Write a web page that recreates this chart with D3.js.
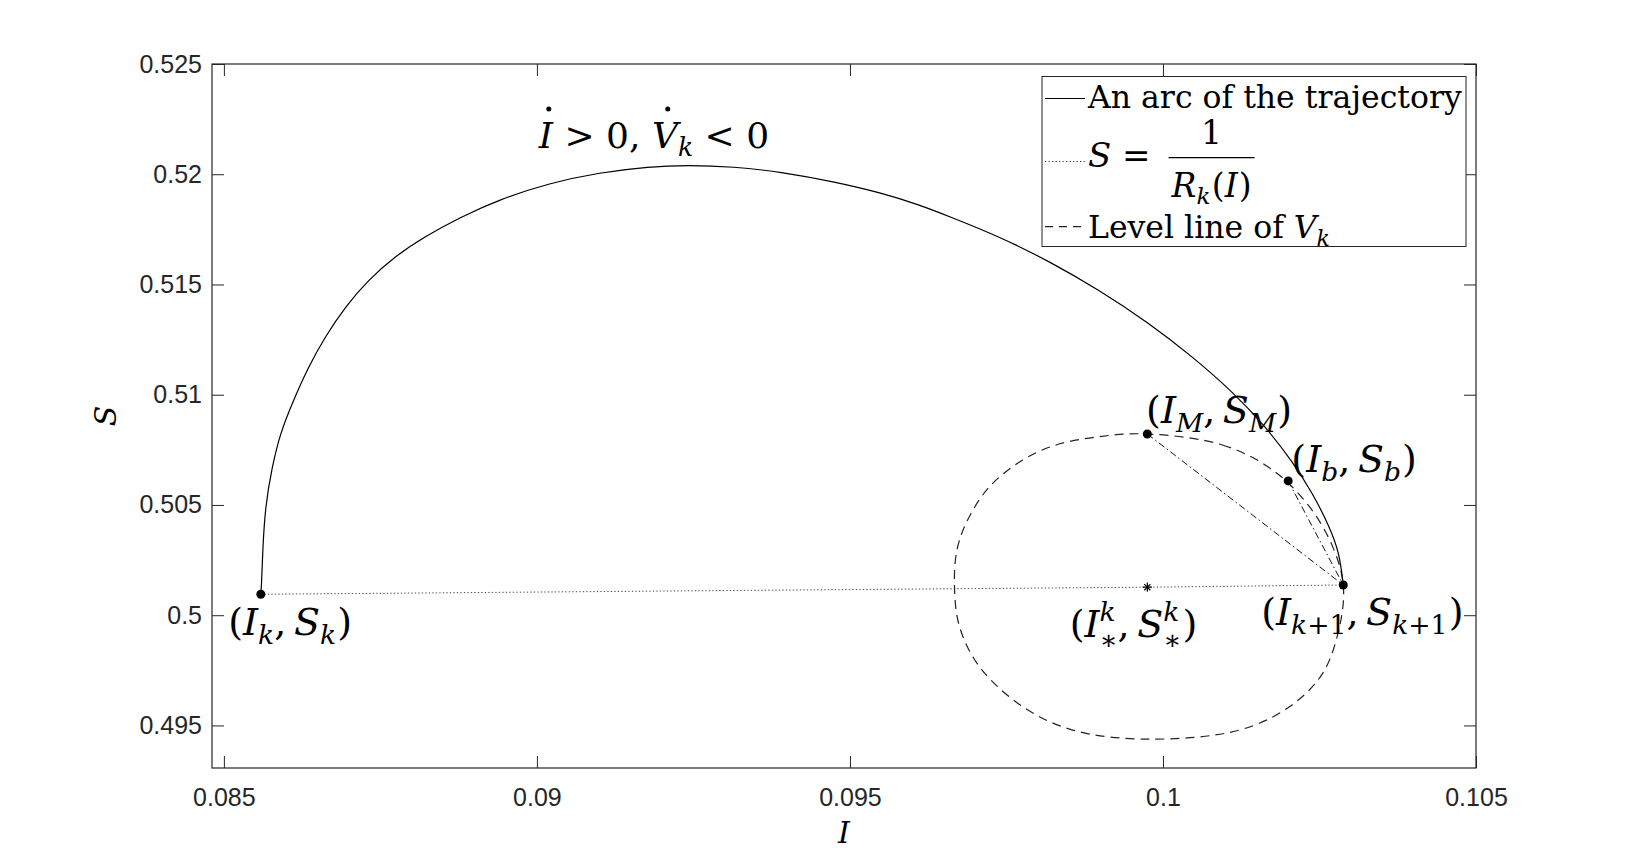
<!DOCTYPE html>
<html>
<head>
<meta charset="utf-8">
<script src="https://cdn.jsdelivr.net/npm/d3@7"></script>
<style>
  body { margin: 0; background: #fff; }
</style>
</head>
<body>
<div id="chart"></div>
<script>
// values (I, S)
const trajI = [0.08559, 0.08560, 0.08562, 0.08566, 0.08577, 0.08590, 0.08609, 0.08635, 0.08662, 0.08694,
  0.08731, 0.08773, 0.08821, 0.08875, 0.08941, 0.09020, 0.09100, 0.09180, 0.09239, 0.09313,
  0.09393, 0.09473, 0.09552, 0.09611, 0.09659, 0.09739, 0.09819, 0.09898, 0.09978, 0.10047,
  0.10111, 0.10164, 0.10207, 0.10239, 0.10266, 0.10282, 0.10288];
const trajS = [0.50095, 0.50130, 0.50296, 0.50492, 0.50674, 0.50825, 0.50961, 0.51127, 0.51264, 0.51400,
  0.51521, 0.51627, 0.51717, 0.51801, 0.51887, 0.51960, 0.52008, 0.52035, 0.52041, 0.52035,
  0.52009, 0.51967, 0.51914, 0.51861, 0.51808, 0.51717, 0.51604, 0.51475, 0.51324, 0.51173,
  0.51014, 0.50855, 0.50696, 0.50553, 0.50402, 0.50281, 0.50137];

const levelI = [0.09975, 0.10095, 0.10175, 0.10234, 0.10271, 0.10288, 0.10282, 0.10255, 0.10202, 0.10122,
  0.09975, 0.09856, 0.09776, 0.09707, 0.09675, 0.09667, 0.09671, 0.09688, 0.09723, 0.09776,
  0.09829, 0.09898];
const levelS = [0.50822, 0.50772, 0.50659, 0.50492, 0.50311, 0.50137, 0.49948, 0.49736, 0.49585, 0.49479,
  0.49438, 0.49479, 0.49585, 0.49766, 0.49948, 0.50129, 0.50296, 0.50432, 0.50583, 0.50704,
  0.50772, 0.50810];

const curveI = [0.08559, 0.09975, 0.10288];
const curveS = [0.50095, 0.50127, 0.50137];

const ptI = [0.08559, 0.09975, 0.10200, 0.10288];
const ptS = [0.50095, 0.50822, 0.50609, 0.50137];
const starI = 0.09975, starS = 0.50127;

const xTicks = [0.085, 0.09, 0.095, 0.1, 0.105];
const xTickLabels = ['0.085', '0.09', '0.095', '0.1', '0.105'];
const yTicks = [0.495, 0.5, 0.505, 0.51, 0.515, 0.52, 0.525];
const yTickLabels = ['0.495', '0.5', '0.505', '0.51', '0.515', '0.52', '0.525'];

// label anchors (left baseline, data units)
const labelI = [0.08507, 0.09973, 0.10205, 0.10157, 0.09851, 0.09003];
const labelS = [0.49910, 0.50872, 0.50650, 0.49956, 0.49901, 0.52120];

const W = 1632, H = 864;
const pL = 212, pR = 1476, pT = 64, pB = 768;
const axisCol = '#262626';
const serif = '"DejaVu Serif", serif';

const svg = d3.select('#chart').append('svg')
  .attr('width', W).attr('height', H)
  .style('background', '#fff');

const x = d3.scaleLinear().domain([0.08481, 0.105]).range([pL, pR]);
const y = d3.scaleLinear().domain([0.49307, 0.525]).range([pB, pT]);

// small TeX-like layout: one <text>, pieces placed one after another
function tex(parent, x0, y0, segs, fs) {
  const t = parent.append('text')
    .attr('transform', `translate(${x0},${y0})`)
    .style('font-family', serif).attr('fill', '#000');
  let cx = 0, last = null;
  segs.forEach(s => {
    if (s.dot) {
      // dot accent over the previous letter
      parent.append('circle')
        .attr('transform', `translate(${x0},${y0})`)
        .attr('cx', last.x + last.w / 2 + s.ox * fs).attr('cy', -s.h * fs)
        .attr('r', 0.07 * fs).attr('fill', '#000');
      return;
    }
    const k = s.small ? 0.7 : 1;
    const sp = t.append('tspan')
      .style('font-size', (fs * k) + 'px')
      .style('font-style', s.it ? 'italic' : 'normal')
      .attr('y', (s.y || 0) * fs)
      .text(s.t.replace(/ /g, '\u00a0'));
    const w = sp.node().getComputedTextLength();
    const xx = s.stack ? last.x : cx + (s.gap || 0) * fs;
    sp.attr('x', xx);
    if (s.stack) cx = Math.max(cx, xx + w); else cx = xx + w;
    last = { x: xx, w: w };
  });
  return cx;
}
const sub = (t, it) => ({ t: t, it: it !== false, small: true, y: 0.24 });
const sup = t => ({ t: t, it: true, small: true, y: -0.42 });

function pair(a, b) {
  return [{ t: '(' }, { t: 'I', it: true }].concat(a,
    [{ t: ',' }, { t: 'S', it: true, gap: 0.2 }], b, [{ t: ')', gap: 0.03 }]);
}

// plot area
const plot = svg.append('g');

plot.append('path')
  .datum(d3.zip(curveI, curveS))
  .attr('d', d3.line().x(d => x(d[0])).y(d => y(d[1])))
  .attr('fill', 'none').attr('stroke', '#444').attr('stroke-width', 1)
  .attr('stroke-dasharray', '1.3,2.2');

plot.append('path')
  .datum(d3.zip(levelI, levelS))
  .attr('d', d3.line().x(d => x(d[0])).y(d => y(d[1])).curve(d3.curveCatmullRomClosed))
  .attr('fill', 'none').attr('stroke', '#222').attr('stroke-width', 1.2)
  .attr('stroke-dasharray', '9,6');

plot.append('path')
  .datum(d3.zip(trajI, trajS))
  .attr('d', d3.line().x(d => x(d[0])).y(d => y(d[1])).curve(d3.curveBasis))
  .attr('fill', 'none').attr('stroke', '#000').attr('stroke-width', 1.2);

// chords from (I_M,S_M) and (I_b,S_b) to (I_k+1,S_k+1)
[1, 2].forEach(i => {
  plot.append('line')
    .attr('x1', x(ptI[i])).attr('y1', y(ptS[i]))
    .attr('x2', x(ptI[3])).attr('y2', y(ptS[3]))
    .attr('stroke', '#111').attr('stroke-width', 1)
    .attr('stroke-dasharray', '7,3,1.5,3');
});

plot.selectAll('circle.pt')
  .data(d3.zip(ptI, ptS))
  .join('circle')
  .attr('cx', d => x(d[0])).attr('cy', d => y(d[1]))
  .attr('r', 4.5).attr('fill', '#000');

[d3.symbol(d3.symbolPlus, 30), d3.symbol(d3.symbolTimes, 26)].forEach(sym => {
  plot.append('path')
    .attr('d', sym())
    .attr('transform', `translate(${x(starI)},${y(starS)})`)
    .attr('fill', 'none').attr('stroke', '#000').attr('stroke-width', 1.2);
});

// annotations
const fsL = 38;
const star = { t: '∗', small: true, y: 0.32, stack: true };
const labels = [
  pair([sub('k')], [sub('k')]),
  pair([sub('M')], [sub('M')]),
  pair([sub('b')], [sub('b')]),
  pair([sub('k'), sub('+1', false)], [sub('k'), sub('+1', false)]),
  pair([sup('k'), star], [sup('k'), star]),
  [{ t: 'I', it: true }, { dot: true, h: 1.08, ox: 0.08 }, { t: ' > 0, ' },
   { t: 'V', it: true }, { dot: true, h: 1.08, ox: 0.08 }, sub('k'), { t: ' < 0' }]
];
labels.forEach((segs, i) => tex(svg, x(labelI[i]), y(labelS[i]), segs, i === 5 ? 36 : fsL));

// axes box with inward ticks
const tickFont = '"Liberation Sans", Arial, sans-serif';
function styleAxis(g) {
  g.select('.domain').remove();
  g.selectAll('line').attr('stroke', axisCol);
  g.selectAll('text').attr('fill', axisCol)
    .style('font-family', tickFont).style('font-size', '25px');
}
svg.append('g').attr('transform', `translate(0,${pB})`)
  .call(d3.axisBottom(x).tickValues(xTicks).tickSize(-12).tickPadding(20)
    .tickFormat((d, i) => xTickLabels[i]))
  .call(styleAxis);
svg.append('g').attr('transform', `translate(0,${pT})`)
  .call(d3.axisTop(x).tickValues(xTicks).tickSize(-12).tickFormat(''))
  .call(styleAxis);
svg.append('g').attr('transform', `translate(${pL},0)`)
  .call(d3.axisLeft(y).tickValues(yTicks).tickSize(-12).tickPadding(10)
    .tickFormat((d, i) => yTickLabels[i]))
  .call(styleAxis);
svg.append('g').attr('transform', `translate(${pR},0)`)
  .call(d3.axisRight(y).tickValues(yTicks).tickSize(-12).tickFormat(''))
  .call(styleAxis);

svg.append('rect')
  .attr('x', pL).attr('y', pT)
  .attr('width', pR - pL).attr('height', pB - pT)
  .attr('fill', 'none').attr('stroke', axisCol).attr('stroke-width', 1.2);

// axis labels
svg.append('text')
  .attr('x', (pL + pR) / 2).attr('y', 843)
  .attr('text-anchor', 'middle')
  .style('font-family', serif).style('font-style', 'italic').style('font-size', '30px')
  .text('I');
svg.append('text')
  .attr('transform', `translate(116,${(pT + pB) / 2}) rotate(-90)`)
  .attr('text-anchor', 'middle')
  .style('font-family', serif).style('font-style', 'italic').style('font-size', '30px')
  .text('S');

// legend
const lg = svg.append('g');
lg.append('rect')
  .attr('x', 1042).attr('y', 76.5).attr('width', 424).attr('height', 170)
  .attr('fill', '#fff').attr('stroke', axisCol).attr('stroke-width', 1);
const fsG = 31.5;
lg.append('line').attr('x1', 1045).attr('x2', 1085).attr('y1', 98.5).attr('y2', 98.5)
  .attr('stroke', '#000').attr('stroke-width', 1.2);
tex(lg, 1088, 108.3, [{ t: 'An arc of the trajectory' }], fsG);

lg.append('line').attr('x1', 1045).attr('x2', 1085).attr('y1', 161.5).attr('y2', 161.5)
  .attr('stroke', '#444').attr('stroke-width', 1).attr('stroke-dasharray', '1.3,2.2');
const wEq = tex(lg, 1088, 166.7, [{ t: 'S', it: true }, { t: ' =' }], 34);
const denom = lg.append('g');
const wDen = tex(denom, 0, 0, [{ t: 'R', it: true }, sub('k'), { t: '(', gap: 0.04 }, { t: 'I', it: true }, { t: ')', gap: 0.03 }], 33);
const barX = 1088 + wEq + 18, barW = wDen + 6;
denom.attr('transform', `translate(${barX + 3},196.5)`);
lg.append('line').attr('x1', barX).attr('x2', barX + barW).attr('y1', 157.7).attr('y2', 157.7)
  .attr('stroke', '#000').attr('stroke-width', 1.3);
lg.append('text').attr('x', barX + barW / 2).attr('y', 144)
  .attr('text-anchor', 'middle')
  .style('font-family', serif).style('font-size', '33px').text('1');

lg.append('line').attr('x1', 1045).attr('x2', 1085).attr('y1', 226.7).attr('y2', 226.7)
  .attr('stroke', '#222').attr('stroke-width', 1.2).attr('stroke-dasharray', '8,6');
tex(lg, 1088, 238.3, [{ t: 'Level line of ' }, { t: 'V', it: true }, sub('k')], fsG);
</script>
</body>
</html>
